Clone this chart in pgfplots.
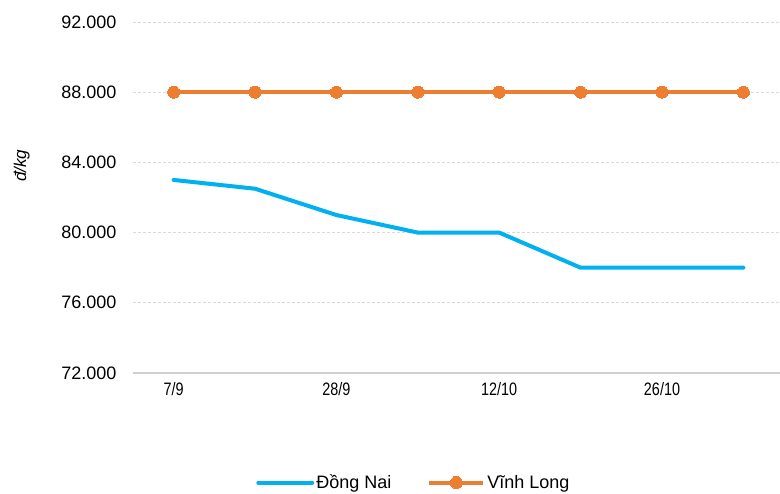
\documentclass[border=0pt]{standalone}
\usepackage{fontspec}
\setmainfont{Liberation Sans}
\newfontfamily\narrowfont[FakeStretch=0.8]{Liberation Sans}
\usepackage{pgfplots}
\pgfplotsset{compat=1.18}
\definecolor{dnblue}{HTML}{00B0F0}
\definecolor{vlorange}{HTML}{ED7D31}
\definecolor{gridgray}{HTML}{D9D9D9}
\begin{document}
\begin{tikzpicture}
\useasboundingbox (0bp,0bp) rectangle (780bp,494bp);
\begin{axis}[
  at={(133bp,121bp)}, anchor=south west,
  scale only axis,
  width=647bp, height=351bp,
  xmin=-0.5, xmax=7.45,
  ymin=72000, ymax=92000,
  ytick={72000,76000,80000,84000,88000,92000},
  scaled y ticks=false,
  xtick={0,1,2,3,4,5,6,7},
  xticklabels={7/9,,28/9,,12/10,,26/10,},
  axis line style={draw=none},
  axis x line*=bottom,
  axis y line*=left,
  major tick length=0pt,
  ymajorgrids,
  grid style={gridgray, densely dashed, line width=0.8bp},
  extra y ticks={72000},
  extra y tick labels={},
  extra y tick style={grid style={solid, gridgray!90!gray, line width=1.2bp}},
  yticklabel={\pgfmathprintnumber[fixed, precision=0, 1000 sep={.}, assume math mode=true]{\tick}},
  yticklabel style={font=\fontsize{18bp}{21bp}\selectfont, xshift=-13bp},
  xticklabel style={font=\narrowfont\fontsize{18bp}{21bp}\selectfont, yshift=-6bp},
  ylabel={\itshape đ/kg},
  ylabel style={font=\fontsize{17bp}{20bp}\selectfont, at={(axis description cs:-0.172,0.59)}, anchor=center, rotate=0},
  legend style={draw=none, fill=none, at={(axis description cs:0.434,-0.312)}, anchor=center,
    legend columns=2, font=\fontsize{18bp}{21bp}\selectfont,
    /tikz/every even column/.append style={column sep=34bp},
    inner sep=0pt},
  legend image code/.code={\draw[mark repeat=2,mark phase=2,#1] plot coordinates {(0bp,0bp) (27bp,0bp) (54bp,0bp)};},
  clip=false,
]
\addplot[dnblue, line width=4bp, line join=round, line cap=round, mark=none] coordinates {
(0,83000) (1,82500) (2,81000) (3,80000) (4,80000) (5,78000) (6,78000) (7,78000)};
\addlegendentry{Đồng Nai}
\addplot[vlorange, line width=4bp, mark=*, mark size=6bp, mark options={solid, fill=vlorange, draw=vlorange, line width=0bp}] coordinates {
(0,88000) (1,88000) (2,88000) (3,88000) (4,88000) (5,88000) (6,88000) (7,88000)};
\addlegendentry{Vĩnh Long}
\end{axis}
\end{tikzpicture}
\end{document}
